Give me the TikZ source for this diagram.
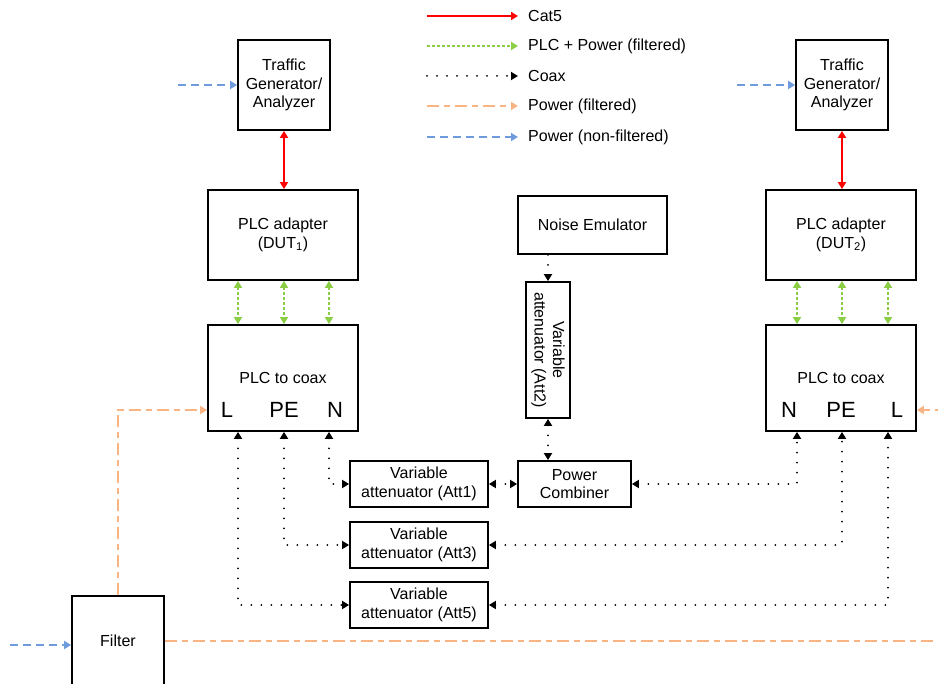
\documentclass[tikz,border=0pt]{standalone}
\usepackage{fontspec}
\setmainfont{Liberation Sans}
\usetikzlibrary{arrows.meta}
\definecolor{catred}{RGB}{255,0,0}
\definecolor{plcgreen}{RGB}{140,205,70}
\definecolor{pwrorange}{RGB}{248,180,130}
\definecolor{pwrblue}{RGB}{110,155,220}

\begin{document}
\begin{tikzpicture}[x=1pt,y=-1pt,
  >={Triangle[length=7pt,width=8pt]},
  box/.style={draw, line width=1.8pt, inner sep=0pt, align=center,
    font=\fontsize{16}{18.5}\selectfont},
  port/.style={inner sep=0pt, font=\fontsize{22}{24}\selectfont},
  legtext/.style={anchor=west, inner xsep=10pt, inner ysep=0pt,
    font=\fontsize{16}{18.5}\selectfont},
  cat/.style={draw=catred, line width=1.8pt},
  plc/.style={draw=plcgreen, line width=1.8pt, dash pattern=on 3pt off 2pt},
  coax/.style={draw=black, line width=2pt, line cap=round, dash pattern=on 0pt off 10pt},
  pwrf/.style={draw=pwrorange, line width=1.8pt, dash pattern=on 12pt off 5pt on 6pt off 5pt},
  pwrn/.style={draw=pwrblue, line width=1.8pt, dash pattern=on 8pt off 5pt},
]
\clip (0,0) rectangle (938,684);

% ---------- legend ----------
\coordinate (lg1a) at (427,16);
\coordinate (lg2a) at (427,46);
\coordinate (lg3a) at (427,76);
\coordinate (lg4a) at (427,106);
\coordinate (lg5a) at (427,137);
\node[legtext] (lg1) at (518,16) {Cat5};
\node[legtext] (lg2) at (518,46) {PLC + Power (filtered)};
\node[legtext] (lg3) at (518,76) {Coax};
\node[legtext] (lg4) at (518,106) {Power (filtered)};
\node[legtext] (lg5) at (518,137) {Power (non-filtered)};
\draw[cat,->] (lg1a) -- (lg1.west);
\draw[plc,->] (lg2a) -- (lg2.west);
\draw[coax,->] (lg3a) -- (lg3.west);
\draw[pwrf,->] (lg4a) -- (lg4.west);
\draw[pwrn,->] (lg5a) -- (lg5.west);

% ---------- left chain ----------
\node[box, minimum width=92pt, minimum height=90pt] (tg1) at (284,85) {Traffic\\Generator/\\Analyzer};
\node[box, minimum width=150pt, minimum height=90pt] (pa1) at (283,235) {PLC adapter\\(DUT\textsubscript{1})};
\node[box, minimum width=150pt, minimum height=106pt] (pc1) at (283,378) {PLC to coax};
\node[port] (l1L) at (227,410) {L};
\node[port] (l1PE) at (284,410) {PE};
\node[port] (l1N) at (335,410) {N};

% ---------- right chain ----------
\node[box, minimum width=92pt, minimum height=90pt] (tg2) at (842,85) {Traffic\\Generator/\\Analyzer};
\node[box, minimum width=150pt, minimum height=90pt] (pa2) at (841,235) {PLC adapter\\(DUT\textsubscript{2})};
\node[box, minimum width=150pt, minimum height=106pt] (pc2) at (841,378) {PLC to coax};
\node[port] (l2N) at (789,410) {N};
\node[port] (l2PE) at (841,410) {PE};
\node[port] (l2L) at (897,410) {L};

% ---------- channel emulation ----------
\node[box, minimum width=149pt, minimum height=58pt] (noise) at (592.5,225) {Noise Emulator};
\node[box, rotate=-90, minimum width=136pt, minimum height=44pt] (att2) at (548,350) {Variable\\attenuator (Att2)};
\node[box, minimum width=113pt, minimum height=46pt] (comb) at (574.5,484) {Power\\Combiner};
\node[box, minimum width=138pt, minimum height=46pt] (att1) at (419,484) {Variable\\attenuator (Att1)};
\node[box, minimum width=138pt, minimum height=46pt] (att3) at (419,545) {Variable\\attenuator (Att3)};
\node[box, minimum width=138pt, minimum height=46pt] (att5) at (419,605) {Variable\\attenuator (Att5)};
\node[box, minimum width=92pt, minimum height=90pt] (filter) at (118,641) {Filter};

% ---------- Cat5 links ----------
\draw[cat,<->] (tg1.south) -- (tg1.south |- pa1.north);
\draw[cat,<->] (tg2.south) -- (tg2.south |- pa2.north);

% ---------- PLC + power links ----------
\foreach \dx in {-45,1,46}
  \draw[plc,<->] ([xshift=\dx pt]pa1.south) -- ([xshift=\dx pt]pc1.north);
\foreach \dx in {-44,1,47}
  \draw[plc,<->] ([xshift=\dx pt]pa2.south) -- ([xshift=\dx pt]pc2.north);

% ---------- coax links ----------
\draw[coax,<->] ([xshift=46pt]pc1.south) |- (att1.west);
\draw[coax,<->] ([xshift=1pt]pc1.south) |- (att3.west);
\draw[coax,<->] ([xshift=-45pt]pc1.south) |- (att5.west);
\draw[coax,<->] (att1.east) -- (comb.west);
\draw[coax,<->] (comb.east) -| ([xshift=-44pt]pc2.south);
\draw[coax,<->] (att3.east) -| ([xshift=1pt]pc2.south);
\draw[coax,<->] (att5.east) -| ([xshift=47pt]pc2.south);
\draw[coax,->] (att2 |- noise.south) -- (att2.west);
\draw[coax,<->] (att2.east) -- (att2.east |- comb.north);

% ---------- power ----------
\coordinate (farR) at (950,641);
\draw[pwrf,->] (filter.north) |- ([yshift=-32pt]pc1.west);
\draw[pwrf,->] (filter.east) -- (farR) |- ([yshift=-32pt]pc2.east);
\coordinate (b0) at (10,645);
\coordinate (b1) at (178,85);
\coordinate (b2) at (737,85);
\draw[pwrn,->] (b0) -- ([yshift=-4pt]filter.west);
\draw[pwrn,->] (b1) -- (tg1.west);
\draw[pwrn,->] (b2) -- (tg2.west);
\end{tikzpicture}
\end{document}
